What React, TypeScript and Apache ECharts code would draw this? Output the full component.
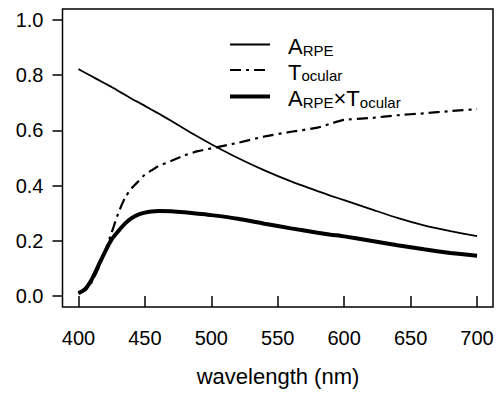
import React, { useEffect, useRef } from "react";
import * as echarts from "echarts";

const wavelength = [400, 405, 410, 415, 420, 425, 430, 435, 440, 445, 450, 455, 460, 470, 480, 490, 500, 520, 540, 560, 580, 590, 600, 620, 640, 660, 680, 700];
const aRPE = [0.822, 0.809, 0.796, 0.783, 0.77, 0.757, 0.743, 0.729, 0.715, 0.702, 0.689, 0.675, 0.662, 0.634, 0.605, 0.577, 0.55, 0.5, 0.455, 0.415, 0.38, 0.363, 0.347, 0.315, 0.283, 0.256, 0.235, 0.217];
const tOcular = [0.01, 0.02, 0.05, 0.1, 0.16, 0.23, 0.3, 0.355, 0.39, 0.415, 0.44, 0.455, 0.47, 0.49, 0.51, 0.525, 0.535, 0.555, 0.578, 0.595, 0.61, 0.625, 0.638, 0.645, 0.655, 0.662, 0.67, 0.677];
const product = [0.01, 0.025, 0.06, 0.11, 0.16, 0.205, 0.235, 0.262, 0.282, 0.295, 0.302, 0.306, 0.308, 0.307, 0.303, 0.298, 0.293, 0.28, 0.262, 0.245, 0.229, 0.222, 0.216, 0.2, 0.184, 0.169, 0.156, 0.146];
const xTicks = [400, 450, 500, 550, 600, 650, 700];
const yTicks = [0, 0.2, 0.4, 0.6, 0.8, 1.0];

const FONT = '"Liberation Sans", Arial, Helvetica, sans-serif';

const pairs = (ys: number[]) => wavelength.map((w, i) => [w, ys[i]]);

export default function App() {
  const ref = useRef<HTMLDivElement>(null);
  useEffect(() => {
    if (!ref.current) return;
    const chart = echarts.init(ref.current, null, { renderer: "svg" });
    const mainSty = { fontSize: 22, fontFamily: FONT, color: "#000", verticalAlign: "bottom", lineHeight: 26 };
    const subSty = { fontSize: 15, fontFamily: FONT, color: "#000", verticalAlign: "bottom", lineHeight: 11 };
    const legendText = (y: number, text: string) => ({
      type: "text",
      x: 288,
      y,
      style: {
        text,
        fontFamily: FONT,
        verticalAlign: "middle",
        align: "left",
        rich: { m: mainSty, s: subSty },
      },
    });
    chart.setOption({
      animation: false,
      backgroundColor: "#fff",
      grid: {
        left: 62.5,
        right: 7,
        top: 9,
        bottom: 86,
        show: true,
        borderColor: "#000",
        borderWidth: 1.5,
        outerBoundsMode: "none",
      },
      xAxis: {
        type: "value",
        min: 388,
        max: 712,
        axisLine: { show: false },
        splitLine: { show: false },
        axisTick: { show: true, customValues: xTicks, length: 11, inside: false, lineStyle: { color: "#000", width: 1.5 } },
        axisLabel: { customValues: xTicks, fontSize: 20, color: "#000", margin: 21, fontFamily: FONT },
      },
      yAxis: {
        type: "value",
        min: -0.04,
        max: 1.04,
        axisLine: { show: false },
        splitLine: { show: false },
        axisTick: { show: true, customValues: yTicks, length: 10, inside: false, lineStyle: { color: "#000", width: 1.5 } },
        axisLabel: {
          customValues: yTicks,
          fontSize: 20,
          color: "#000",
          margin: 19,
          fontFamily: FONT,
          formatter: (v: number) => v.toFixed(1),
        },
      },
      series: [
        {
          type: "line",
          name: "ARPE",
          data: pairs(aRPE),
          symbol: "none",
          smooth: 0.2,
          lineStyle: { color: "#000", width: 1.8 },
        },
        {
          type: "line",
          name: "Tocular",
          data: pairs(tOcular),
          symbol: "none",
          smooth: 0.2,
          lineStyle: { color: "#000", width: 2.2, type: [11, 5, 3, 5] },
        },
        {
          type: "line",
          name: "ARPE x Tocular",
          data: pairs(product),
          symbol: "none",
          smooth: 0.2,
          lineStyle: { color: "#000", width: 4 },
        },
      ],
      graphic: [
        { type: "line", shape: { x1: 230, y1: 44.5, x2: 270, y2: 44.5 }, style: { stroke: "#000", lineWidth: 1.8 } },
        { type: "line", shape: { x1: 230, y1: 70, x2: 270, y2: 70 }, style: { stroke: "#000", lineWidth: 2.2, lineDash: [11, 5, 3, 5] } },
        { type: "line", shape: { x1: 230, y1: 96.5, x2: 270, y2: 96.5 }, style: { stroke: "#000", lineWidth: 4 } },
        legendText(44.5, "{m|A}{s|RPE}"),
        legendText(70, "{m|T}{s|ocular}"),
        legendText(96.5, "{m|A}{s|RPE}{m|×T}{s|ocular}"),
        {
          type: "text",
          x: 278,
          y: 376,
          style: { text: "wavelength (nm)", fontSize: 22, fontFamily: FONT, fill: "#000", align: "center", verticalAlign: "middle" },
        },
      ],
    });
    return () => chart.dispose();
  }, []);
  return <div ref={ref} style={{ position: "absolute", left: 0, top: 0, width: 500, height: 393 }} />;
}
